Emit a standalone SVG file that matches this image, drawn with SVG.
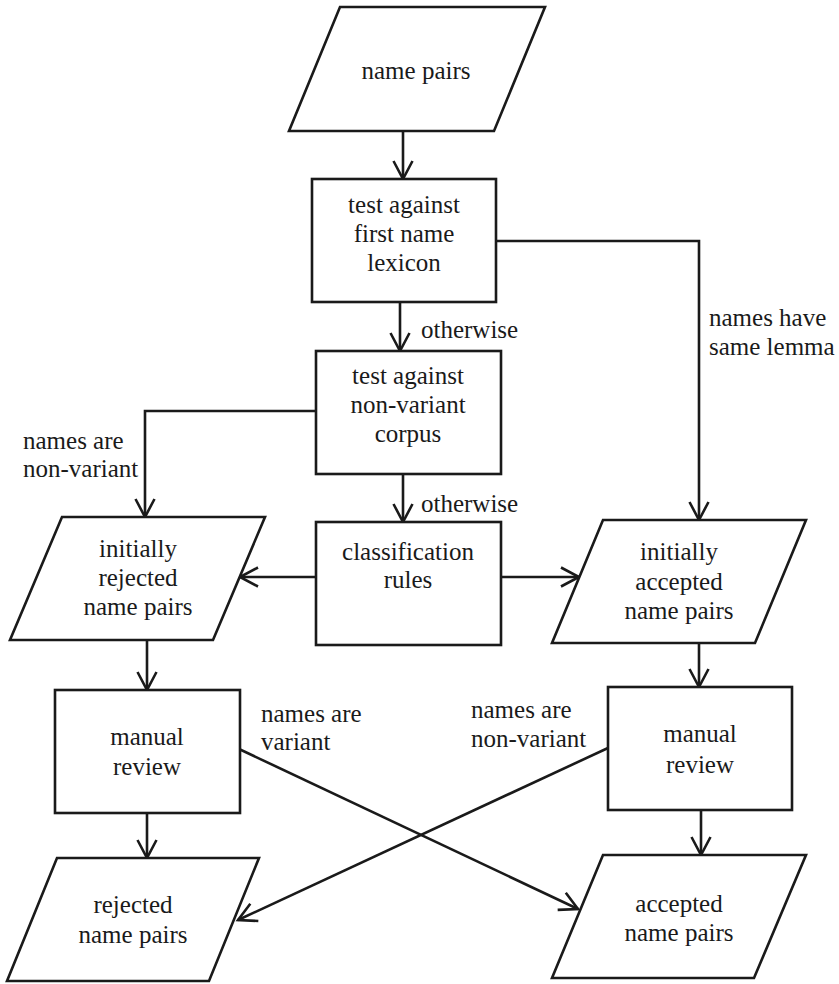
<svg xmlns="http://www.w3.org/2000/svg" width="839" height="984" viewBox="0 0 839 984" font-family="Liberation Serif, Times New Roman, serif">
<style>
.s{fill:#fff;stroke:#1a1a1a;stroke-width:2.6}
.c{fill:none;stroke:#1a1a1a;stroke-width:2.6}
.t{font-size:25px;fill:#1a1a1a}
.m{text-anchor:middle}
</style>
<defs>
<marker id="ah" viewBox="-20 -11 22 22" markerWidth="22" markerHeight="22" refX="0" refY="0" orient="auto" markerUnits="userSpaceOnUse" overflow="visible">
<path d="M-18,-9.5 L0,0 L-18,9.5" fill="none" stroke="#1a1a1a" stroke-width="2.6"/>
</marker>
</defs>
<rect width="839" height="984" fill="#fff"/>
<g id="connectors">
<line class="c" x1="403" y1="131" x2="403" y2="179" marker-end="url(#ah)"/>
<polyline class="c" points="496,241 699,241 699,520" marker-end="url(#ah)"/>
<line class="c" x1="400" y1="302" x2="400" y2="351" marker-end="url(#ah)"/>
<polyline class="c" points="316,411 145,411 145,517" marker-end="url(#ah)"/>
<line class="c" x1="403" y1="474" x2="403" y2="522" marker-end="url(#ah)"/>
<line class="c" x1="316" y1="577" x2="240" y2="577" marker-end="url(#ah)"/>
<line class="c" x1="501" y1="577" x2="579" y2="577" marker-end="url(#ah)"/>
<line class="c" x1="147" y1="640" x2="147" y2="690" marker-end="url(#ah)"/>
<line class="c" x1="147" y1="813" x2="147" y2="858" marker-end="url(#ah)"/>
<line class="c" x1="699" y1="643" x2="699" y2="687" marker-end="url(#ah)"/>
<line class="c" x1="701" y1="810" x2="701" y2="855" marker-end="url(#ah)"/>
<line class="c" x1="239" y1="749" x2="578" y2="909" marker-end="url(#ah)"/>
<line class="c" x1="608" y1="748" x2="238" y2="920" marker-end="url(#ah)"/>
<text class="t" x="709" y="326">names have</text>
<text class="t" x="709" y="355">same lemma</text>
<text class="t" x="421" y="338">otherwise</text>
<text class="t" x="23" y="449">names are</text>
<text class="t" x="23" y="477">non-variant</text>
<text class="t" x="421" y="512">otherwise</text>
<text class="t" x="261" y="722">names are</text>
<text class="t" x="261" y="750">variant</text>
<text class="t" x="471" y="718">names are</text>
<text class="t" x="471" y="747">non-variant</text>
</g>
<g id="input">
<polygon class="s" points="340,7 545,7 494,131 289,131"/>
<text class="t m" x="416" y="79">name pairs</text>
</g>
<g id="lexicon">
<rect class="s" x="312" y="179" width="184" height="123"/>
<text class="t m" x="404" y="213">test against</text>
<text class="t m" x="404" y="242">first name</text>
<text class="t m" x="404" y="271">lexicon</text>
</g>
<g id="corpus">
<rect class="s" x="316" y="351" width="185" height="123"/>
<text class="t m" x="408" y="384">test against</text>
<text class="t m" x="408" y="413">non-variant</text>
<text class="t m" x="408" y="442">corpus</text>
</g>
<g id="rules">
<rect class="s" x="316" y="522" width="185" height="123"/>
<text class="t m" x="408" y="560">classification</text>
<text class="t m" x="408" y="588">rules</text>
</g>
<g id="init-rejected">
<polygon class="s" points="62,517 265,517 213,640 10,640"/>
<text class="t m" x="138" y="557">initially</text>
<text class="t m" x="138" y="586">rejected</text>
<text class="t m" x="138" y="615">name pairs</text>
</g>
<g id="init-accepted">
<polygon class="s" points="603,520 806,520 755,643 552,643"/>
<text class="t m" x="679" y="560">initially</text>
<text class="t m" x="679" y="590">accepted</text>
<text class="t m" x="679" y="619">name pairs</text>
</g>
<g id="review-left">
<rect class="s" x="55" y="690" width="185" height="123"/>
<text class="t m" x="147" y="745">manual</text>
<text class="t m" x="147" y="775">review</text>
</g>
<g id="review-right">
<rect class="s" x="608" y="687" width="184" height="123"/>
<text class="t m" x="700" y="742">manual</text>
<text class="t m" x="700" y="773">review</text>
</g>
<g id="rejected">
<polygon class="s" points="57,858 259,858 209,981 7,981"/>
<text class="t m" x="133" y="913">rejected</text>
<text class="t m" x="133" y="943">name pairs</text>
</g>
<g id="accepted">
<polygon class="s" points="603,855 806,855 754,978 552,978"/>
<text class="t m" x="679" y="912">accepted</text>
<text class="t m" x="679" y="941">name pairs</text>
</g>
</svg>
